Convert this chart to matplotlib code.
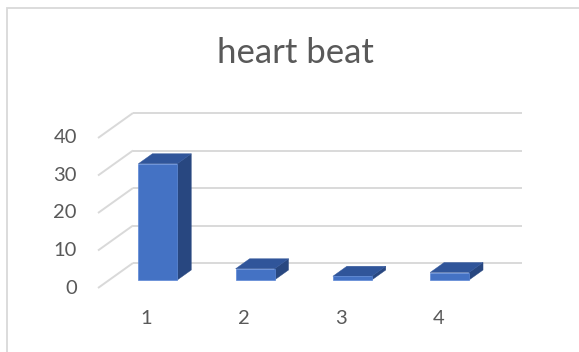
import matplotlib
matplotlib.use("Agg")
import matplotlib.pyplot as plt
from matplotlib.patches import Polygon, Rectangle

# Data
categories = ["1", "2", "3", "4"]
values = [31, 3, 1, 2]
yticks = [0, 10, 20, 30, 40]
title = "heart beat"

# Colours
FRONT = "#4472C4"
TOP = "#30559A"
SIDE = "#284780"
GRID = "#D9D9D9"
TEXT = "#595959"

W, H = 579, 352
fig = plt.figure(figsize=(W / 100, H / 100), dpi=100)
ax = fig.add_axes([0, 0, 1, 1])
ax.axis("off")

# Scales: one category slot = 97.25 px, one value unit = 3.75 px
PX_X = 97.25
PX_Y = 3.75
X0_PX, Y0_PX = 98, 288          # front-plane origin (left edge of slot 1, value 0)
ax.set_xlim(0.5 - X0_PX / PX_X, 0.5 + (W - X0_PX) / PX_X)
ax.set_ylim(-(H - Y0_PX) / PX_Y, Y0_PX / PX_Y)

# Oblique depth offset from the front plane to the back wall
DX = 35 / PX_X
DY = 25 / PX_Y
n = len(categories)
x_left, x_right = 0.5, n + 0.5

# Gridlines: back wall lines plus the receding left-wall diagonals
for v in yticks:
    ax.plot([x_left + DX, x_right + DX], [v + DY, v + DY], color=GRID, lw=1.4,
            solid_capstyle="butt", zorder=1)
    ax.plot([x_left, x_left + DX], [v, v + DY], color=GRID, lw=1.4,
            solid_capstyle="butt", zorder=1)

# 3D columns
t_front, t_back = 0.32, 0.72
bw = 0.40
ox, oy = t_front * DX, t_front * DY
ddx, ddy = (t_back - t_front) * DX, (t_back - t_front) * DY
xs = [i + 1 for i in range(n)]
bars = ax.bar([x + ox for x in xs], values, width=bw, bottom=oy, color=FRONT,
              edgecolor="#5B87D6", linewidth=0.5, zorder=3)
for bar, v in zip(bars, values):
    xl = bar.get_x()
    xr = xl + bar.get_width()
    b = bar.get_y()
    top = b + v
    ax.add_patch(Polygon([(xr, b), (xr, top), (xr + ddx, top + ddy), (xr + ddx, b + ddy)],
                         closed=True, facecolor=SIDE, edgecolor=SIDE, lw=0.3, zorder=2))
    ax.add_patch(Polygon([(xl, top), (xr, top), (xr + ddx, top + ddy), (xl + ddx, top + ddy)],
                         closed=True, facecolor=TOP, edgecolor=TOP, lw=0.3, zorder=2))

# Axis labels
font = "Lato"
for v in yticks:
    ax.text(x_left - 21 / PX_X, v, str(v), ha="right", va="center",
            fontsize=14.5, color=TEXT, family=font)
for x, c in zip(xs, categories):
    ax.text(x, -30 / PX_Y, c, ha="center", va="center", fontsize=14.5,
            color=TEXT, family=font)

fig.text(295 / W, 1 - 53 / H, title, ha="center", va="center", fontsize=25,
         color=TEXT, family=font)

# Chart border
fig.patches.append(Rectangle((7 / W, -0.05), 1.2, 1 - 7.5 / H + 0.05,
                             transform=fig.transFigure, fill=False,
                             edgecolor=GRID, lw=1.3))

fig.savefig("out.png", dpi=100)
